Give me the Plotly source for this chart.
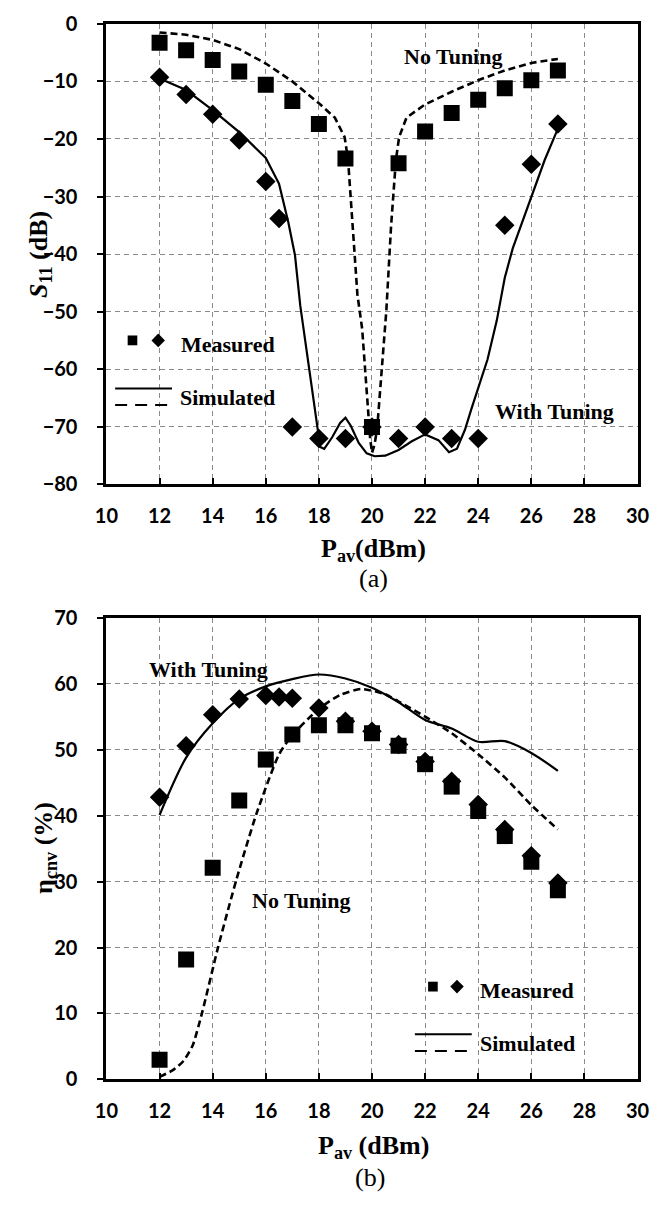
import plotly.graph_objects as go

W, H = 664, 1211

# ---------------- data: (a) S11 ----------------
p_meas = [12, 13, 14, 15, 16, 17, 18, 19, 20, 21, 22, 23, 24, 25, 26, 27]
s11_meas_notune = [-3.3, -4.6, -6.3, -8.3, -10.6, -13.4, -17.4, -23.4, -70.0,
                   -24.2, -18.7, -15.5, -13.2, -11.2, -9.8, -8.1]
p_meas_tune = [12, 13, 14, 15, 16, 16.5, 17, 18, 19, 20, 21, 22, 23, 24, 25, 26, 27]
s11_meas_tune = [-9.3, -12.3, -15.7, -20.2, -27.4, -33.8, -70, -72, -72, -70,
                 -72, -70, -72, -72, -35.0, -24.4, -17.4]

p_sim_tune = [12, 13, 14, 15, 16, 16.5, 16.85, 17.1, 17.3, 17.5, 17.65, 17.82, 18.05,
              18.2, 18.5, 18.8, 19.0, 19.2, 19.5, 19.8, 20.1, 20.5, 21.0, 21.5, 22.0,
              22.5, 22.9, 23.2, 23.5, 23.75, 24.0, 24.35, 24.7, 25.0, 25.3, 26.0, 26.5, 27.0]
s11_sim_tune = [-9.5, -11.5, -15.0, -18.8, -23.3, -27.8, -34.5, -40.2, -49.0, -55.5,
                -60.0, -65.8, -73.5, -73.8, -71.8, -69.3, -68.4, -69.8, -72.8, -74.6,
                -75.1, -75.0, -74.0, -72.5, -71.3, -72.3, -74.4, -73.8, -70.5, -66.8,
                -63.4, -58.3, -51.5, -44.1, -39.0, -29.9, -23.7, -18.2]

p_sim_notune = [12, 13, 14, 15, 16, 17, 18, 18.6, 18.97, 19.1, 19.27, 19.45, 19.63,
                19.8, 19.93, 20.0, 20.1, 20.2, 20.36, 20.54, 20.72, 20.9, 21.02, 21.3,
                22.0, 23.0, 24.0, 25.0, 26.0, 27.0]
s11_sim_notune = [-1.5, -1.9, -2.8, -4.4, -6.9, -10.0, -13.8, -16.3, -19.7, -23.7,
                  -35.0, -47.0, -53.0, -64.0, -72.0, -74.5, -73.0, -70.0, -61.2, -49.8,
                  -35.0, -23.7, -19.7, -16.3, -14.0, -11.8, -9.8, -8.1, -6.8, -6.1]

# ---------------- data: (b) efficiency ----------------
eff_meas_notune = [3.0, 18.2, 32.1, 42.3, 48.5, 52.3, 53.7, 53.7, 52.5, 50.6,
                   47.8, 44.4, 40.7, 36.9, 33.0, 28.7]
eff_meas_tune = [42.8, 50.6, 55.3, 57.7, 58.2, 58.0, 57.8, 56.3, 54.3, 52.8,
                 50.8, 48.2, 45.2, 41.7, 37.9, 33.9, 29.8]

p_eff_sim_tune = [12, 13, 14, 15, 16, 17, 18, 19, 20, 21, 22, 23, 24, 25, 26, 27]
eff_sim_tune = [40.1, 48.8, 54.0, 57.7, 59.6, 60.7, 61.4, 60.8, 59.4, 57.2,
                54.5, 53.2, 51.2, 51.3, 49.5, 46.8]

p_eff_sim_notune = [12, 12.5, 12.9, 13.25, 13.6, 14.2, 14.9, 15.65, 16.5, 17.0, 18.0,
                    18.8, 19.6, 20.5, 21.0, 22.0, 23.0, 24.0, 25.0, 26.0, 27.0]
eff_sim_notune = [0.4, 1.4, 2.8, 5.2, 10.1, 20.0, 30.4, 40.3, 49.3, 52.2, 56.2,
                  58.3, 59.2, 58.4, 57.3, 55.0, 52.5, 49.3, 45.8, 41.6, 37.9]

x_ticks = [10, 12, 14, 16, 18, 20, 22, 24, 26, 28, 30]
y1_ticks = [0, -10, -20, -30, -40, -50, -60, -70, -80]
y2_ticks = [0, 10, 20, 30, 40, 50, 60, 70]


def px(x):
    return x / W


def py(y):
    return 1 - y / H


SERIF = "Liberation Serif, Times New Roman, Times, serif"
TICKFONT = dict(family="Lato, Open Sans, sans-serif", size=20, color="black", weight="bold")

fig = go.Figure()

line_solid = dict(color="black", width=2.2)
line_dash = dict(color="black", width=2.6, dash="7px,4px")
sq = dict(symbol="square", size=16, color="black")
dm = dict(symbol="diamond", size=15, color="black")

# top
fig.add_trace(go.Scatter(x=p_sim_tune, y=s11_sim_tune, mode="lines", line=line_solid,
                         xaxis="x", yaxis="y", showlegend=False))
fig.add_trace(go.Scatter(x=p_sim_notune, y=s11_sim_notune, mode="lines", line=line_dash,
                         xaxis="x", yaxis="y", showlegend=False))
fig.add_trace(go.Scatter(x=p_meas_tune, y=s11_meas_tune, mode="markers", marker=dm,
                         xaxis="x", yaxis="y", showlegend=False))
fig.add_trace(go.Scatter(x=p_meas, y=s11_meas_notune, mode="markers", marker=sq,
                         xaxis="x", yaxis="y", showlegend=False))
# bottom
fig.add_trace(go.Scatter(x=p_eff_sim_tune, y=eff_sim_tune, mode="lines",
                         line=dict(line_solid, shape="spline", smoothing=0.8),
                         xaxis="x2", yaxis="y2", showlegend=False))
fig.add_trace(go.Scatter(x=p_eff_sim_notune, y=eff_sim_notune, mode="lines",
                         line=dict(line_dash, shape="spline", smoothing=0.6),
                         xaxis="x2", yaxis="y2", showlegend=False))
fig.add_trace(go.Scatter(x=p_meas, y=eff_meas_notune, mode="markers", marker=sq,
                         xaxis="x2", yaxis="y2", showlegend=False))
fig.add_trace(go.Scatter(x=p_meas_tune, y=eff_meas_tune, mode="markers", marker=dm,
                         xaxis="x2", yaxis="y2", showlegend=False))

xd = [px(98), px(649)]
common_x = dict(range=[10, 30], tickvals=x_ticks, ticks="inside", ticklen=6, tickwidth=2,
                tickcolor="black", showline=True, linewidth=3, linecolor="black", mirror=True,
                showgrid=True, gridcolor="#8a8a8a", gridwidth=1.3, griddash="5px,4px",
                zeroline=False, tickfont=TICKFONT, ticklabelstandoff=12, domain=xd)
common_y = dict(ticks="outside", ticklen=6, tickwidth=2, tickcolor="black",
                showline=True, linewidth=3, linecolor="black", mirror=True,
                showgrid=True, gridcolor="#8a8a8a", gridwidth=1.3, griddash="5px,4px",
                zeroline=False, tickfont=TICKFONT, ticklabelstandoff=16)

fig.update_layout(
    width=W, height=H, margin=dict(l=0, r=0, t=0, b=0),
    paper_bgcolor="white", plot_bgcolor="white",
    xaxis=dict(common_x, anchor="y"),
    yaxis=dict(common_y, range=[-80, 0], tickvals=y1_ticks, anchor="x",
               domain=[py(481), py(11)]),
    xaxis2=dict(common_x, anchor="y2"),
    yaxis2=dict(common_y, range=[0, 70], tickvals=y2_ticks, anchor="x2",
                domain=[py(1088), py(617)]),
)

ann = []


def text(xp, yp, s, size=22, xanchor="center", bold=True, textangle=0):
    ann.append(dict(x=px(xp), y=py(yp), xref="paper", yref="paper",
                    text=f"<b>{s}</b>" if bold else s,
                    showarrow=False, xanchor=xanchor, yanchor="middle", textangle=textangle,
                    font=dict(family=SERIF, size=size, color="black")))


# axis titles
text(375, 548, "P<sub>av</sub>(dBm)", size=26)
text(375, 577, "(a)", size=26, bold=False)
text(29, 246, "<i>S</i><sub>11</sub> (dB)", size=26, textangle=-90)
text(375, 1157, "P<sub>av</sub> (dBm)", size=26)
text(371, 1188, "(b)", size=26, bold=False)
text(34, 852, "η<sub>cnv</sub> (%)", size=26, textangle=-90)

# in-plot labels
text(458, 44, "No Tuning", size=22)
text(563, 407, "With Tuning", size=22)
text(204, 670, "With Tuning", size=22)
text(300, 905, "No Tuning", size=22)

# legends
text(173, 338, "Measured", size=22, xanchor="left")
text(172, 392, "Simulated", size=22, xanchor="left")
text(483, 997, "Measured", size=22, xanchor="left")
text(483, 1051, "Simulated", size=22, xanchor="left")

fig.update_layout(annotations=ann)

shapes = []


def sq_shape(cx, cy, s=10):
    shapes.append(dict(type="rect", xref="paper", yref="paper",
                       x0=px(cx - s / 2), x1=px(cx + s / 2), y0=py(cy + s / 2), y1=py(cy - s / 2),
                       fillcolor="black", line=dict(width=0)))


def dm_shape(cx, cy, r=7):
    path = (f"M {px(cx)} {py(cy - r)} L {px(cx + r)} {py(cy)} "
            f"L {px(cx)} {py(cy + r)} L {px(cx - r)} {py(cy)} Z")
    shapes.append(dict(type="path", xref="paper", yref="paper", path=path,
                       fillcolor="black", line=dict(width=0)))


def hline(x0, x1, y, dash=None):
    shapes.append(dict(type="line", xref="paper", yref="paper",
                       x0=px(x0), x1=px(x1), y0=py(y), y1=py(y),
                       line=dict(color="black", width=2, dash=dash)))


sq_shape(125, 334)
dm_shape(151.7, 334)
hline(107, 166, 383)
hline(107, 166, 400, "12px,8px")

sq_shape(436.7, 993.3)
dm_shape(461.7, 993.3)
hline(418, 477, 1042)
hline(418, 477, 1059, "12px,8px")

fig.update_layout(shapes=shapes)

fig.write_html("out.html")
